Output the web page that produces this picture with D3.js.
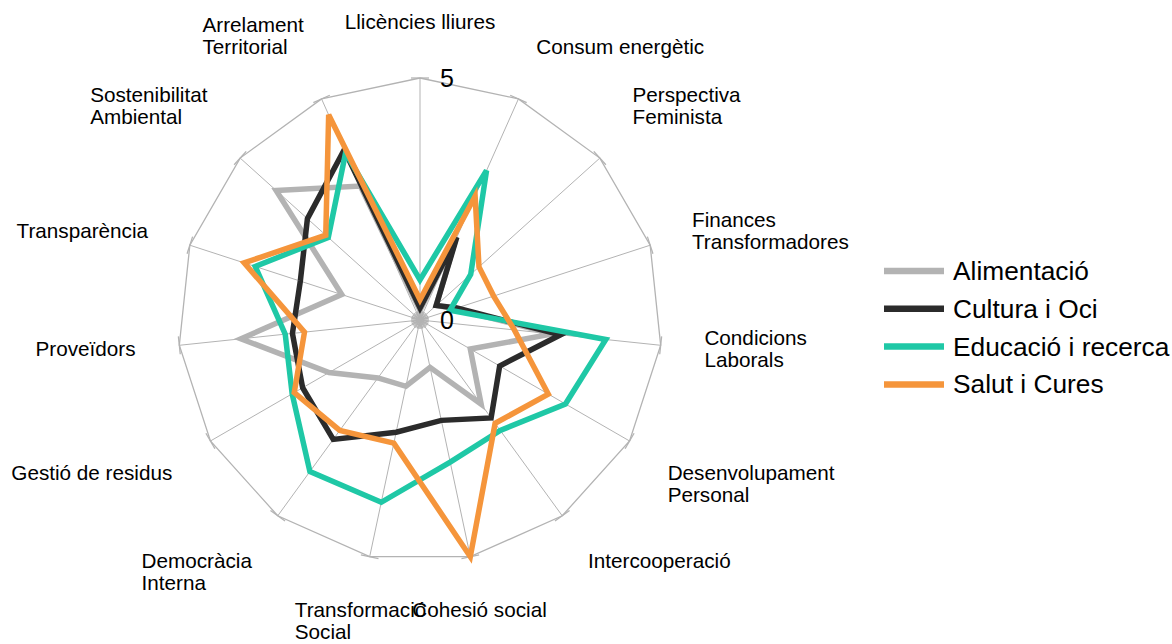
<!DOCTYPE html>
<html>
<head>
<meta charset="utf-8">
<script src="https://cdn.jsdelivr.net/npm/d3@7/dist/d3.min.js"></script>
<style>
  body { margin: 0; background: #fff; }
  text { font-family: "Liberation Sans", Arial, sans-serif; fill: #000; }
</style>
</head>
<body>
<svg id="svg"></svg>
<script>
// axis names, clockwise from the top
const axes = [
  'Llicències lliures', 'Consum energètic', 'Perspectiva\nFeminista', 'Finances\nTransformadores',
  'Condicions\nLaborals', 'Desenvolupament\nPersonal', 'Intercooperació', 'Cohesió social',
  'Transformació\nSocial', 'Democràcia\nInterna', 'Gestió de residus', 'Proveïdors',
  'Transparència', 'Sostenibilitat\nAmbiental', 'Arrelament\nTerritorial'
];

const seriesNames = ['Alimentació', 'Cultura i Oci', 'Educació i recerca', 'Salut i Cures'];

// values (scale 0..5)
const alimentacio = [0.2, 1.8, 0.45, 0.75, 2.75, 1.2, 2.15, 1.0, 1.4, 1.48, 2.17, 3.72, 1.7, 4.0, 3.03];
const culturaOci  = [0.25, 1.87, 0.45, 0.8, 2.92, 1.9, 2.5, 2.12, 2.37, 3.05, 2.8, 2.65, 2.6, 3.13, 3.85];
const educacio    = [0.83, 3.38, 1.41, 0.65, 3.86, 3.47, 2.82, 3.0, 3.85, 3.87, 3.05, 2.8, 3.58, 2.55, 3.78];
const salutCures  = [0.42, 2.8, 1.64, 1.6, 1.96, 3.06, 2.64, 5.0, 2.6, 2.82, 3.0, 2.4, 3.82, 2.62, 4.64];

const tickValues = [0, 5];

const colors = ['#b3b3b3', '#2b2b2b', '#1fc8a6', '#f5953b'];
const allSeries = [alimentacio, culturaOci, educacio, salutCures];

const width = 1172;
const height = 644;
const cx = 420, cy = 320;
const R = 242;

const svg = d3.select('#svg')
  .attr('width', width)
  .attr('height', height);

const g = svg.append('g')
  .attr('transform', `translate(${cx},${cy})`);

const rScale = d3.scaleLinear().domain([0, 5]).range([0, R]);
const aScale = d3.scaleLinear().domain([0, axes.length]).range([0, 2 * Math.PI]);

// point on axis i at value v
function pt(i, v) {
  const a = aScale(i);
  return [Math.sin(a) * rScale(v), -Math.cos(a) * rScale(v)];
}

// spokes
g.selectAll('.spoke')
  .data(axes)
  .enter()
  .append('line')
  .attr('x1', 0).attr('y1', 0)
  .attr('x2', (d, i) => pt(i, 5)[0])
  .attr('y2', (d, i) => pt(i, 5)[1])
  .attr('stroke', '#b3b3b3')
  .attr('stroke-width', 1);

// outer ring
g.append('path')
  .datum(axes.map(() => 5))
  .attr('d', d3.lineRadial()
    .angle((d, i) => aScale(i))
    .radius(d => rScale(d))
    .curve(d3.curveLinearClosed))
  .attr('fill', 'none')
  .attr('stroke', '#b3b3b3')
  .attr('stroke-width', 1.3);

// tick marks at 0 and 5 on each axis, perpendicular to the spoke
const tickLen = 9;
tickValues.forEach(v => {
  g.selectAll('.tick' + v)
    .data(axes)
    .enter()
    .append('line')
    .attr('x1', (d, i) => pt(i, v)[0] + Math.cos(aScale(i)) * tickLen)
    .attr('y1', (d, i) => pt(i, v)[1] + Math.sin(aScale(i)) * tickLen)
    .attr('x2', (d, i) => pt(i, v)[0] - Math.cos(aScale(i)) * tickLen)
    .attr('y2', (d, i) => pt(i, v)[1] - Math.sin(aScale(i)) * tickLen)
    .attr('stroke', '#b3b3b3')
    .attr('stroke-width', 1.3);
});

// series
const radial = d3.lineRadial()
  .angle((d, i) => aScale(i))
  .radius(d => rScale(d))
  .curve(d3.curveLinearClosed);

g.selectAll('.series')
  .data(allSeries)
  .enter()
  .append('path')
  .attr('d', d => radial(d))
  .attr('fill', 'none')
  .attr('stroke', (d, i) => colors[i])
  .attr('stroke-width', 5.5)
  .attr('stroke-linejoin', 'miter');

// value labels on the top axis
g.selectAll('.vlabel')
  .data(tickValues)
  .enter()
  .append('text')
  .attr('x', 20)
  .attr('y', d => -rScale(d))
  .attr('dominant-baseline', 'central')
  .attr('font-size', '25px')
  .text(d => d);

// axis labels, placed the way the office chart does it
const labelFont = 20.7;
const lineH = 22;
const labelR = R + 44;
const lim = Math.sin(Math.PI / 8);

axes.forEach((name, i) => {
  const a = aScale(i);
  const s = Math.sin(a), c = Math.cos(a);
  const px = s * labelR, py = -c * labelR;
  const lines = name.split('\n');

  const t = g.append('text').attr('font-size', labelFont + 'px');
  const spans = lines.map(l => t.append('tspan').text(l));
  const w = d3.max(spans, sp => sp.node().getComputedTextLength());
  const h = lines.length * lineH;

  let x0, y0;
  if (Math.abs(s) < lim) x0 = px - w / 2;
  else if (s > 0) x0 = px;
  else x0 = px - w;

  if (Math.abs(c) < lim) y0 = py - h / 2;
  else if (c > 0) y0 = py - h;
  else y0 = py;

  spans.forEach((sp, k) => {
    sp.attr('x', x0).attr('y', y0 + 17 + k * lineH);
  });
});

// legend
const legend = svg.append('g').attr('transform', 'translate(884,271)');
const rowH = 37.8;

legend.selectAll('line')
  .data(seriesNames)
  .enter()
  .append('line')
  .attr('x1', 0).attr('x2', 60)
  .attr('y1', (d, i) => i * rowH)
  .attr('y2', (d, i) => i * rowH)
  .attr('stroke', (d, i) => colors[i])
  .attr('stroke-width', 6.5);

legend.selectAll('text')
  .data(seriesNames)
  .enter()
  .append('text')
  .attr('x', 69)
  .attr('y', (d, i) => i * rowH)
  .attr('dominant-baseline', 'central')
  .attr('font-size', '26.3px')
  .text(d => d);
</script>
</body>
</html>
